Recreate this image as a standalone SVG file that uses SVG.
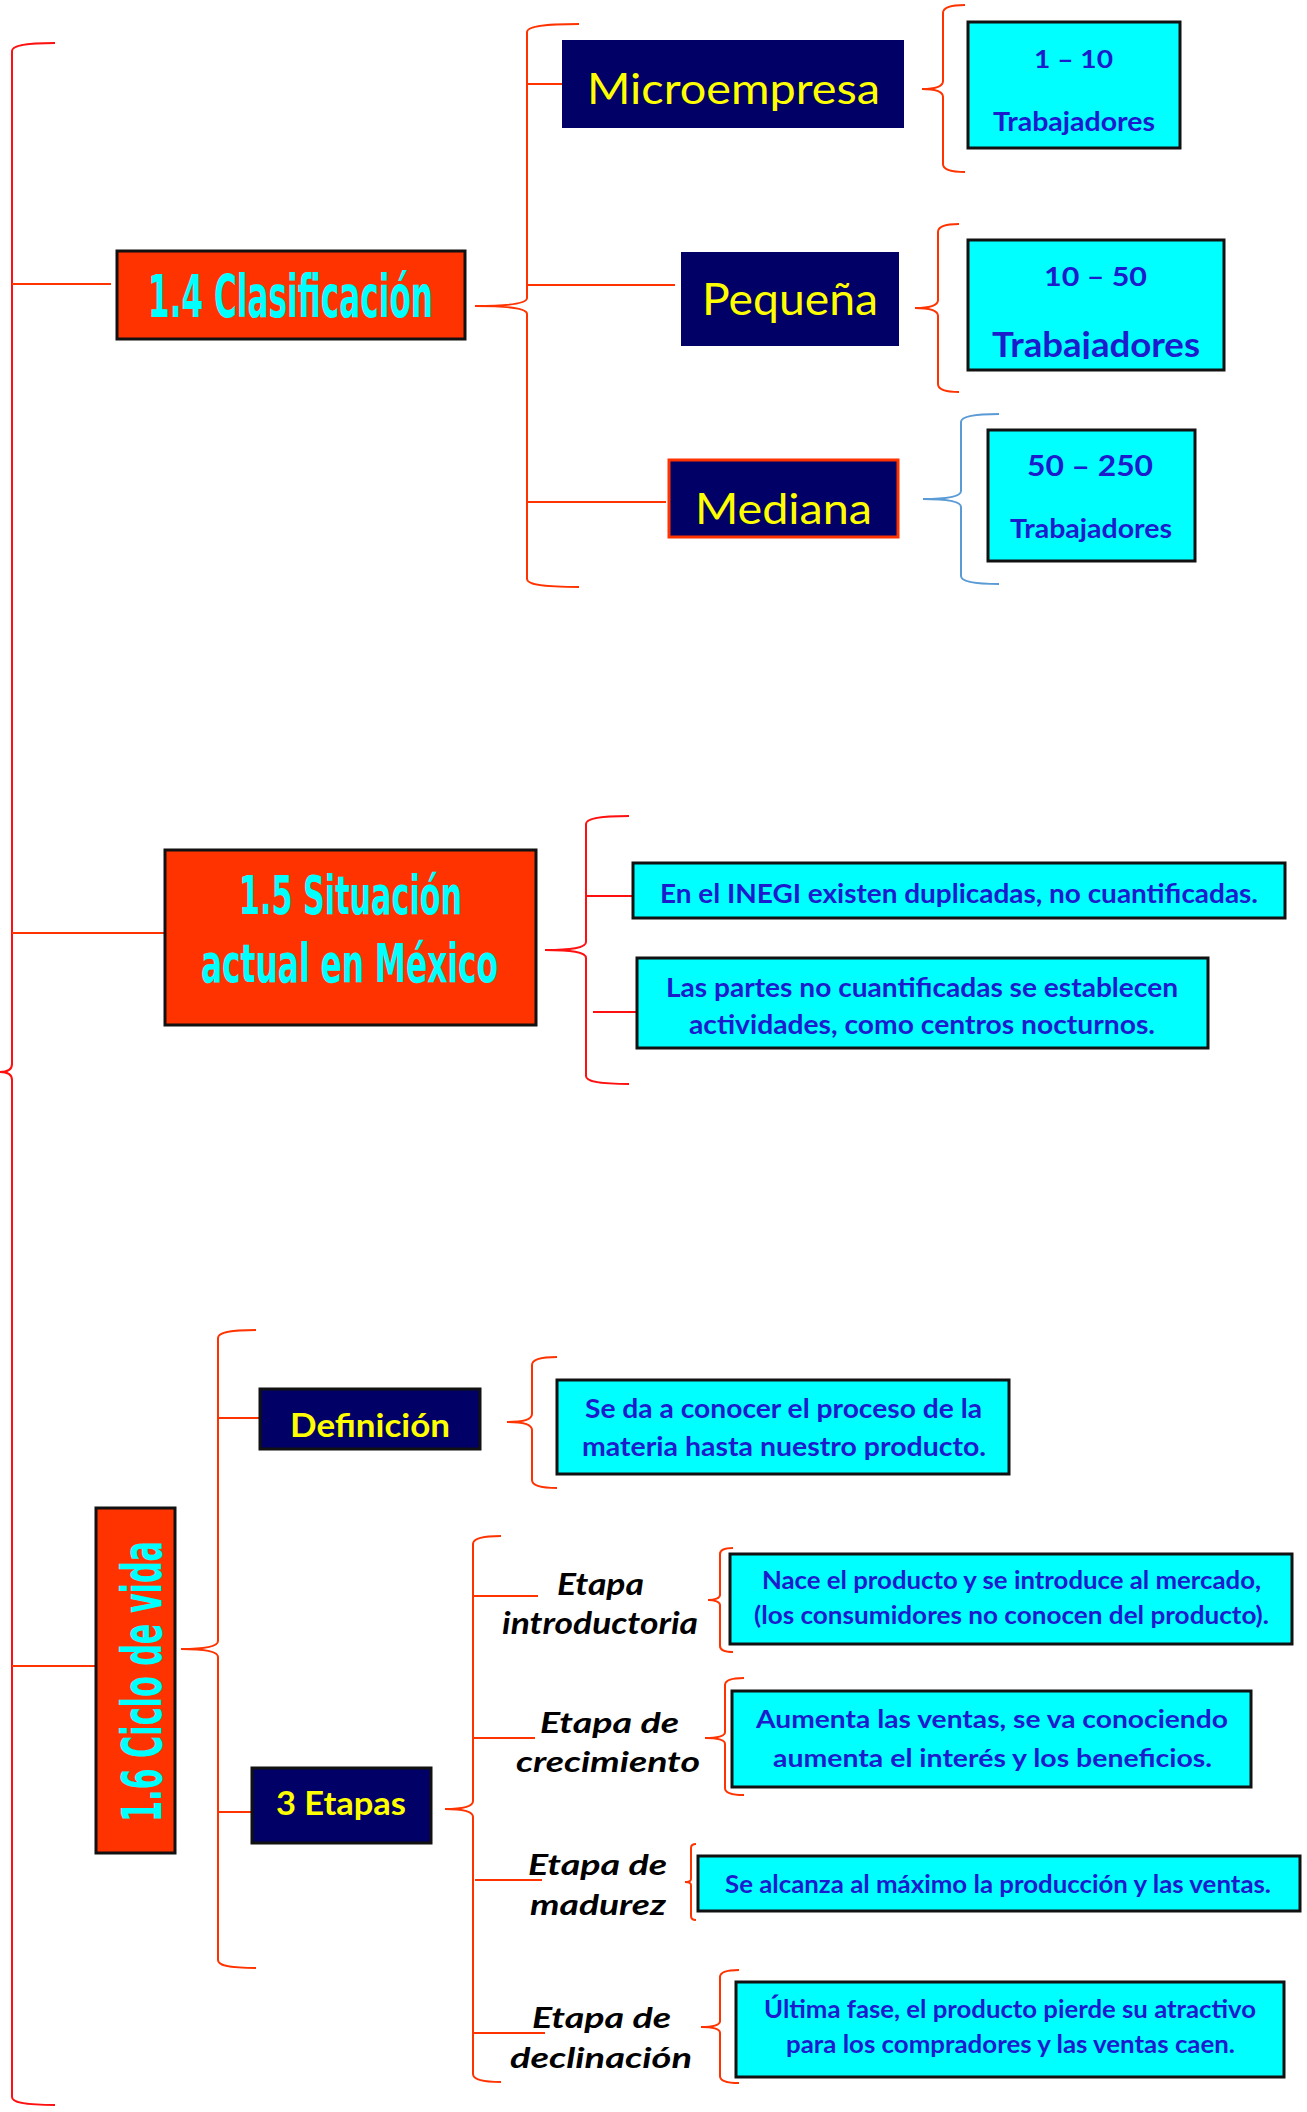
<svg xmlns="http://www.w3.org/2000/svg" width="1307" height="2112" viewBox="0 0 1307 2112">
<style>
.br{fill:none;stroke:#FF3300;stroke-width:2}
.brr{fill:none;stroke:#FF1010;stroke-width:2}
.brb{fill:none;stroke:#5B9BD5;stroke-width:2}
.ln{stroke:#FF3300;stroke-width:2}
.lnr{stroke:#FF1010;stroke-width:2}
.hdr{fill:#FF3300;stroke:#111;stroke-width:3}
.navy{fill:#000066}
.navyb{fill:#000066;stroke:#111;stroke-width:3}
.cy{fill:#00FFFF;stroke:#111;stroke-width:3}
.ht{font-family:"Liberation Sans Narrow","DejaVu Sans Condensed","Liberation Sans",sans-serif;font-weight:bold;fill:#00FFFF}
.yt{font-family:Lato,"Open Sans",sans-serif;fill:#FFFF00}
.bt{font-family:Lato,"Open Sans",sans-serif;font-weight:bold;fill:#1C1CCC}
.it{font-family:Lato,"Open Sans",sans-serif;font-weight:bold;font-style:italic;fill:#000}
</style>
<defs>
<clipPath id="c1"><rect x="960" y="300" width="280" height="59"/></clipPath>
<clipPath id="c2"><rect x="480" y="1600" width="240" height="35"/></clipPath>
<clipPath id="c3"><rect x="480" y="1740" width="240" height="33"/></clipPath>
<clipPath id="c4"><rect x="480" y="1880" width="240" height="36"/></clipPath>
<clipPath id="c5"><rect x="480" y="2035" width="240" height="34"/></clipPath>
</defs>
<rect width="1307" height="2112" fill="#fff"/>
<g id="connectors">
<path class="brr" d="M55,43 C23,43 12,46 12,51 L12,1064 C12,1070 7,1072 0,1072 C7,1072 12,1074 12,1080 L12,2097 C12,2102 23,2105 55,2105"/>
<path class="br" d="M579,24 C540,24 527,27 527,32 L527,298 C527,304 506,306 475,306 C506,306 527,308 527,314 L527,579 C527,584 540,587 579,587"/>
<path class="br" d="M965,5 C948,5 943,8 943,13 L943,81 C943,87 935,89 922,89 C935,89 943,91 943,97 L943,164 C943,169 948,172 965,172"/>
<path class="br" d="M959,224 C943,224 938,227 938,232 L938,300 C938,306 929,308 915,308 C929,308 938,310 938,316 L938,384 C938,389 943,392 959,392"/>
<path class="brb" d="M999,414 C971,414 961,417 961,422 L961,491 C961,497 946,499 923,499 C946,499 961,501 961,507 L961,576 C961,581 971,584 999,584"/>
<path class="brr" d="M629,816 C597,816 586,819 586,824 L586,942 C586,948 571,950 545,950 C571,950 586,952 586,958 L586,1076 C586,1081 597,1084 629,1084"/>
<path class="br" d="M256,1330 C227,1330 218,1333 218,1338 L218,1641 C218,1647 203,1649 181,1649 C203,1649 218,1651 218,1657 L218,1960 C218,1965 227,1968 256,1968"/>
<path class="br" d="M557,1357 C538,1357 532,1360 532,1365 L532,1414 C532,1420 522,1422 507,1422 C522,1422 532,1424 532,1430 L532,1480 C532,1485 538,1488 557,1488"/>
<path class="br" d="M501,1536 C480,1536 473,1539 473,1544 L473,1801 C473,1807 462,1809 445,1809 C462,1809 473,1811 473,1817 L473,2074 C473,2079 480,2082 501,2082"/>
<path class="br" d="M733,1548 C724,1548 720,1550 720,1554 L720,1595 C720,1598 715,1600 708,1600 C715,1600 720,1602 720,1605 L720,1646 C720,1650 724,1652 733,1652"/>
<path class="br" d="M744,1678 C730,1678 725,1681 725,1685 L725,1732 C725,1736 717,1738 705,1738 C717,1738 725,1740 725,1744 L725,1788 C725,1792 730,1795 744,1795"/>
<path class="br" d="M696,1844 C693,1844 691,1845 691,1848 L691,1879 C691,1881 689,1882 685,1882 C689,1882 691,1883 691,1885 L691,1916 C691,1919 693,1920 696,1920"/>
<path class="br" d="M739,1970 C725,1970 720,1973 720,1977 L720,2021 C720,2025 712,2027 701,2027 C712,2027 720,2029 720,2033 L720,2076 C720,2080 725,2083 739,2083"/>
<line class="ln" x1="12" y1="284" x2="111" y2="284"/>
<line class="ln" x1="12" y1="933" x2="166" y2="933"/>
<line class="ln" x1="12" y1="1666" x2="96" y2="1666"/>
<line class="ln" x1="527" y1="84" x2="572" y2="84"/>
<line class="ln" x1="527" y1="285" x2="675" y2="285"/>
<line class="ln" x1="527" y1="502" x2="666" y2="502"/>
<line class="lnr" x1="585" y1="896" x2="632" y2="896"/>
<line class="lnr" x1="593" y1="1012" x2="637" y2="1012"/>
<line class="ln" x1="218" y1="1418" x2="259" y2="1418"/>
<line class="ln" x1="218" y1="1812" x2="254" y2="1812"/>
<line class="ln" x1="474" y1="1596" x2="538" y2="1596"/>
<line class="ln" x1="473" y1="1738" x2="535" y2="1738"/>
<line class="ln" x1="475" y1="1880" x2="542" y2="1880"/>
<line class="ln" x1="473" y1="2033" x2="545" y2="2033"/>
</g>
<g id="n14">
<rect class="hdr" x="117" y="251" width="348" height="88"/>
<text class="ht" x="148" y="317" font-size="58" textLength="285" lengthAdjust="spacingAndGlyphs">1.4 Clasificación</text>
</g>
<g id="micro">
<rect class="navy" x="562" y="40" width="342" height="88"/>
<text class="yt" x="587" y="104" font-size="43" textLength="293" lengthAdjust="spacingAndGlyphs">Microempresa</text>
</g>
<g id="pequena">
<rect class="navy" x="681" y="252" width="218" height="94"/>
<text class="yt" x="702" y="315" font-size="44" textLength="176" lengthAdjust="spacingAndGlyphs">Pequeña</text>
</g>
<g id="mediana">
<rect x="669" y="460" width="229" height="77" fill="#000066" stroke="#FF3300" stroke-width="3"/>
<text class="yt" x="695" y="524" font-size="42" textLength="177" lengthAdjust="spacingAndGlyphs">Mediana</text>
</g>
<g id="r1">
<rect class="cy" x="968" y="22" width="212" height="126"/>
<text class="bt" x="1034" y="68" font-size="25" textLength="79" lengthAdjust="spacingAndGlyphs">1 – 10</text>
<text class="bt" x="993" y="131" font-size="26" textLength="162" lengthAdjust="spacingAndGlyphs">Trabajadores</text>
</g>
<g id="r2">
<rect class="cy" x="968" y="240" width="256" height="130"/>
<text class="bt" x="1044" y="286" font-size="27" textLength="103" lengthAdjust="spacingAndGlyphs">10 – 50</text>
<text class="bt" x="992" y="357" font-size="35" textLength="208" lengthAdjust="spacingAndGlyphs" clip-path="url(#c1)">Trabajadores</text>
</g>
<g id="r3">
<rect class="cy" x="988" y="430" width="207" height="131"/>
<text class="bt" x="1027" y="476" font-size="28" textLength="126" lengthAdjust="spacingAndGlyphs">50 – 250</text>
<text class="bt" x="1010" y="538" font-size="26" textLength="162" lengthAdjust="spacingAndGlyphs">Trabajadores</text>
</g>
<g id="n15">
<rect class="hdr" x="165" y="850" width="371" height="175"/>
<text class="ht" x="239" y="914" font-size="54" textLength="223" lengthAdjust="spacingAndGlyphs">1.5 Situación</text>
<text class="ht" x="201" y="982" font-size="54" textLength="297" lengthAdjust="spacingAndGlyphs">actual en México</text>
</g>
<g id="inegi">
<rect class="cy" x="633" y="863" width="652" height="55"/>
<text class="bt" x="660" y="903" font-size="26" textLength="598" lengthAdjust="spacingAndGlyphs">En el INEGI existen duplicadas, no cuantificadas.</text>
</g>
<g id="partes">
<rect class="cy" x="637" y="958" width="571" height="90"/>
<text class="bt" x="666" y="997" font-size="26" textLength="512" lengthAdjust="spacingAndGlyphs">Las partes no cuantificadas se establecen</text>
<text class="bt" x="689" y="1034" font-size="26" textLength="466" lengthAdjust="spacingAndGlyphs">actividades, como centros nocturnos.</text>
</g>
<g id="n16">
<rect class="hdr" x="96" y="1508" width="79" height="345"/>
<text class="ht" transform="translate(161,1681.5) rotate(-90)" x="0" y="0" text-anchor="middle" font-size="56" textLength="281" lengthAdjust="spacingAndGlyphs">1.6 Ciclo de vida</text>
</g>
<g id="definicion">
<rect class="navyb" x="260" y="1389" width="220" height="60"/>
<text class="yt" x="290" y="1437" font-size="33" font-weight="bold" textLength="160" lengthAdjust="spacingAndGlyphs">Definición</text>
</g>
<g id="def-text">
<rect class="cy" x="557" y="1380" width="452" height="94"/>
<text class="bt" x="585" y="1418" font-size="26" textLength="397" lengthAdjust="spacingAndGlyphs">Se da a conocer el proceso de la</text>
<text class="bt" x="582" y="1456" font-size="26" textLength="404" lengthAdjust="spacingAndGlyphs">materia hasta nuestro producto.</text>
</g>
<g id="etapas">
<rect class="navyb" x="252" y="1768" width="179" height="75"/>
<text class="yt" x="276" y="1815" font-size="33" font-weight="bold" textLength="130" lengthAdjust="spacingAndGlyphs">3 Etapas</text>
</g>
<g id="e-intro">
<text class="it" x="557" y="1595" font-size="30" textLength="87" lengthAdjust="spacingAndGlyphs">Etapa</text>
<text class="it" x="502" y="1634" font-size="30" textLength="196" lengthAdjust="spacingAndGlyphs" clip-path="url(#c2)">introductoria</text>
</g>
<g id="e-crec">
<text class="it" x="540" y="1733" font-size="29" textLength="139" lengthAdjust="spacingAndGlyphs">Etapa de</text>
<text class="it" x="516" y="1772" font-size="29" textLength="184" lengthAdjust="spacingAndGlyphs" clip-path="url(#c3)">crecimiento</text>
</g>
<g id="e-mad">
<text class="it" x="528" y="1875" font-size="29" textLength="139" lengthAdjust="spacingAndGlyphs">Etapa de</text>
<text class="it" x="530" y="1915" font-size="29" textLength="136" lengthAdjust="spacingAndGlyphs" clip-path="url(#c4)">madurez</text>
</g>
<g id="e-decl">
<text class="it" x="532" y="2028" font-size="29" textLength="139" lengthAdjust="spacingAndGlyphs">Etapa de</text>
<text class="it" x="510" y="2068" font-size="29" textLength="182" lengthAdjust="spacingAndGlyphs" clip-path="url(#c5)">declinación</text>
</g>
<g id="nace">
<rect class="cy" x="730" y="1554" width="562" height="90"/>
<text class="bt" x="762" y="1589" font-size="24" textLength="499" lengthAdjust="spacingAndGlyphs">Nace el producto y se introduce al mercado,</text>
<text class="bt" x="754" y="1624" font-size="24" textLength="515" lengthAdjust="spacingAndGlyphs">(los consumidores no conocen del producto).</text>
</g>
<g id="aumenta">
<rect class="cy" x="732" y="1691" width="519" height="96"/>
<text class="bt" x="756" y="1728" font-size="25" textLength="472" lengthAdjust="spacingAndGlyphs">Aumenta las ventas, se va conociendo</text>
<text class="bt" x="773" y="1767" font-size="25" textLength="439" lengthAdjust="spacingAndGlyphs">aumenta el interés y los beneficios.</text>
</g>
<g id="alcanza">
<rect class="cy" x="698" y="1856" width="602" height="55"/>
<text class="bt" x="725" y="1893" font-size="24" textLength="546" lengthAdjust="spacingAndGlyphs">Se alcanza al máximo la producción y las ventas.</text>
</g>
<g id="ultima">
<rect class="cy" x="736" y="1982" width="548" height="95"/>
<text class="bt" x="764" y="2018" font-size="24" textLength="492" lengthAdjust="spacingAndGlyphs">Última fase, el producto pierde su atractivo</text>
<text class="bt" x="786" y="2053" font-size="24" textLength="449" lengthAdjust="spacingAndGlyphs">para los compradores y las ventas caen.</text>
</g>
</svg>
